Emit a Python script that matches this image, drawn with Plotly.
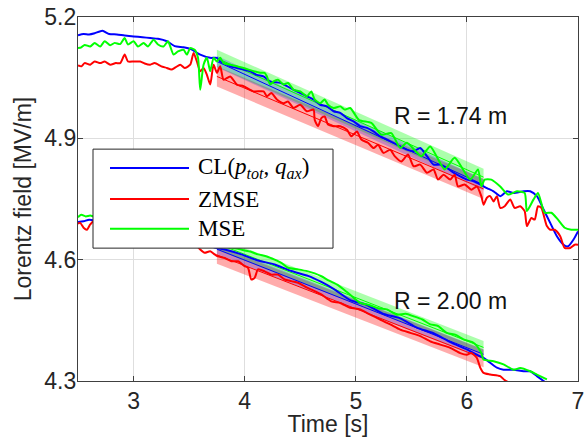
import plotly.graph_objects as go

# ---------------- data ----------------
# Upper family (R = 1.74 m)
up_cl_t = [2.50, 2.55, 2.60, 2.65, 2.72, 2.78, 2.85, 2.92, 3.00, 3.08, 3.15, 3.22, 3.30, 3.37, 3.45, 3.52,
           3.60, 3.69, 3.75, 3.78, 3.81, 3.87, 3.93, 3.99, 4.05, 4.11, 4.17, 4.23, 4.32, 4.38, 4.44, 4.50,
           4.56, 4.62, 4.68, 4.74, 4.80, 4.86, 4.92, 4.98, 5.04, 5.10, 5.16, 5.22, 5.28, 5.34, 5.40, 5.46,
           5.52, 5.58, 5.64, 5.70, 5.76, 5.82, 5.88, 5.94, 6.00, 6.06, 6.12, 6.18, 6.24, 6.30, 6.36, 6.42,
           6.51, 6.57, 6.63, 6.69, 6.75, 6.81, 6.87, 6.91, 6.96, 7.00]
up_cl_f = [5.155, 5.158, 5.157, 5.160, 5.166, 5.158, 5.157, 5.154, 5.152, 5.150, 5.148, 5.146, 5.140, 5.128,
           5.125, 5.120, 5.107, 5.099, 5.099, 5.090, 5.086, 5.078, 5.074, 5.070, 5.066, 5.057, 5.053, 5.041,
           5.037, 5.029, 5.020, 5.012, 5.004, 4.996, 4.983, 4.979, 4.967, 4.963, 4.950, 4.942, 4.930, 4.926,
           4.917, 4.905, 4.897, 4.889, 4.880, 4.872, 4.868, 4.876, 4.856, 4.835, 4.835, 4.827, 4.815, 4.806,
           4.798, 4.794, 4.786, 4.777, 4.769, 4.757, 4.769, 4.765, 4.769, 4.769, 4.757, 4.724, 4.691, 4.658,
           4.637, 4.633, 4.650, 4.670]

up_zmse_t = [2.50, 2.53, 2.56, 2.61, 2.65, 2.70, 2.74, 2.79, 2.84, 2.88, 2.92, 2.95, 3.00, 3.06, 3.10, 3.15,
             3.19, 3.25, 3.30, 3.34, 3.38, 3.42, 3.46, 3.51, 3.54, 3.57, 3.60, 3.63, 3.66, 3.69, 3.72, 3.75,
             3.78, 3.81, 3.87, 3.93, 3.99, 4.08, 4.17, 4.20, 4.24, 4.29, 4.35, 4.39, 4.44, 4.50, 4.56, 4.62,
             4.63, 4.66, 4.69, 4.72, 4.75, 4.80, 4.86, 4.92, 4.96, 5.01, 5.05, 5.11, 5.16, 5.20, 5.25, 5.31,
             5.35, 5.41, 5.47, 5.52, 5.58, 5.64, 5.70, 5.74, 5.79, 5.85, 5.89, 5.92, 5.98, 6.04, 6.09, 6.13,
             6.15, 6.18, 6.21, 6.24, 6.27, 6.30, 6.34, 6.39, 6.43, 6.48, 6.52, 6.54, 6.58, 6.61, 6.64, 6.67,
             6.72, 6.75, 6.79, 6.84, 6.88, 6.93, 6.97, 7.00]
up_zmse_f = [5.080, 5.078, 5.086, 5.082, 5.090, 5.086, 5.090, 5.082, 5.086, 5.086, 5.107, 5.090, 5.090, 5.090,
             5.085, 5.082, 5.086, 5.078, 5.074, 5.070, 5.076, 5.082, 5.074, 5.082, 5.111, 5.090, 5.066, 5.074,
             5.057, 5.033, 5.082, 5.062, 5.078, 5.045, 5.053, 5.033, 5.029, 5.016, 5.016, 5.004, 5.012, 4.996,
             4.987, 4.991, 4.975, 4.983, 4.967, 4.971, 4.946, 4.930, 4.950, 4.954, 4.934, 4.930, 4.930, 4.921,
             4.905, 4.917, 4.897, 4.889, 4.876, 4.884, 4.864, 4.872, 4.856, 4.843, 4.860, 4.831, 4.835, 4.815,
             4.823, 4.798, 4.810, 4.798, 4.810, 4.781, 4.786, 4.773, 4.781, 4.757, 4.736, 4.753, 4.757, 4.744,
             4.757, 4.728, 4.732, 4.749, 4.728, 4.732, 4.720, 4.683, 4.703, 4.699, 4.732, 4.728, 4.683, 4.674,
             4.674, 4.658, 4.629, 4.629, 4.637, 4.637]

up_mse_t = [2.50, 2.53, 2.56, 2.61, 2.65, 2.70, 2.74, 2.79, 2.83, 2.88, 2.92, 2.95, 3.00, 3.04, 3.09, 3.13,
            3.18, 3.22, 3.27, 3.31, 3.36, 3.40, 3.45, 3.48, 3.51, 3.55, 3.58, 3.60, 3.63, 3.66, 3.69, 3.72,
            3.75, 3.78, 3.81, 3.87, 3.93, 3.99, 4.08, 4.14, 4.18, 4.20, 4.23, 4.26, 4.30, 4.35, 4.39, 4.44,
            4.50, 4.56, 4.60, 4.63, 4.68, 4.72, 4.75, 4.80, 4.86, 4.90, 4.95, 5.03, 5.14, 5.23, 5.32, 5.40,
            5.46, 5.59, 5.67, 5.80, 5.89, 6.03, 6.10, 6.13, 6.16, 6.22, 6.30, 6.37, 6.45, 6.52, 6.54, 6.60,
            6.64, 6.70, 6.76, 6.82, 6.88, 6.94, 7.00]
up_mse_f = [5.123, 5.125, 5.131, 5.127, 5.136, 5.127, 5.140, 5.130, 5.136, 5.133, 5.148, 5.132, 5.140, 5.127,
            5.136, 5.127, 5.144, 5.132, 5.127, 5.140, 5.107, 5.115, 5.119, 5.107, 5.123, 5.119, 5.099, 5.020,
            5.082, 5.099, 5.066, 5.099, 5.090, 5.099, 5.086, 5.082, 5.078, 5.074, 5.066, 5.062, 5.062, 5.053,
            5.033, 5.041, 5.045, 5.033, 5.037, 5.020, 5.016, 5.004, 5.016, 4.996, 4.987, 4.996, 4.983, 4.975,
            4.979, 4.971, 4.975, 4.945, 4.938, 4.909, 4.913, 4.876, 4.889, 4.856, 4.880, 4.823, 4.852, 4.798,
            4.823, 4.781, 4.798, 4.798, 4.781, 4.761, 4.769, 4.765, 4.720, 4.749, 4.765, 4.716, 4.716, 4.699,
            4.679, 4.674, 4.674]

# Lower family (R = 2.00 m)
lo_cl_t = [2.50, 2.55, 2.60, 2.64, 2.80, 3.00, 3.20, 3.40, 3.60, 3.73, 3.82, 3.97, 4.12, 4.27, 4.42, 4.57,
           4.69, 4.80, 4.95, 5.10, 5.25, 5.40, 5.55, 5.70, 5.85, 6.00, 6.09, 6.15, 6.21, 6.27, 6.33, 6.42,
           6.51, 6.57, 6.63, 6.70]
lo_cl_f = [4.693, 4.695, 4.699, 4.697, 4.695, 4.692, 4.688, 4.678, 4.650, 4.630, 4.625, 4.613, 4.598, 4.588,
           4.572, 4.560, 4.545, 4.528, 4.500, 4.488, 4.466, 4.455, 4.432, 4.418, 4.396, 4.378, 4.365, 4.357,
           4.345, 4.333, 4.328, 4.328, 4.324, 4.324, 4.312, 4.298]

lo_zmse_t = [2.50, 2.52, 2.55, 2.58, 2.61, 2.64, 2.80, 3.00, 3.20, 3.40, 3.55, 3.60, 3.64, 3.69, 3.73, 3.76,
             3.82, 3.88, 3.94, 4.00, 4.03, 4.06, 4.09, 4.12, 4.18, 4.24, 4.30, 4.36, 4.42, 4.48, 4.54, 4.60,
             4.69, 4.78, 4.86, 4.95, 5.04, 5.13, 5.22, 5.31, 5.40, 5.49, 5.58, 5.67, 5.76, 5.85, 5.94, 6.00,
             6.04, 6.09, 6.12, 6.15, 6.21, 6.30, 6.34, 6.38]
lo_zmse_f = [4.689, 4.691, 4.679, 4.674, 4.687, 4.695, 4.690, 4.688, 4.684, 4.672, 4.640, 4.625, 4.617, 4.621,
             4.613, 4.608, 4.604, 4.596, 4.596, 4.584, 4.580, 4.551, 4.555, 4.576, 4.571, 4.563, 4.563, 4.551,
             4.547, 4.543, 4.534, 4.526, 4.514, 4.497, 4.493, 4.481, 4.477, 4.464, 4.452, 4.440, 4.427, 4.419,
             4.411, 4.398, 4.390, 4.382, 4.369, 4.365, 4.369, 4.357, 4.333, 4.320, 4.316, 4.312, 4.302, 4.296]

lo_mse_t = [2.50, 2.53, 2.57, 2.61, 2.64, 2.80, 3.00, 3.20, 3.40, 3.60, 3.79, 3.88, 3.97, 4.05, 4.12, 4.20,
            4.27, 4.33, 4.39, 4.48, 4.57, 4.63, 4.69, 4.76, 4.84, 4.92, 5.04, 5.12, 5.20, 5.28, 5.37, 5.45,
            5.52, 5.60, 5.67, 5.74, 5.82, 5.90, 5.97, 6.05, 6.09, 6.13, 6.15, 6.24, 6.33, 6.42, 6.48, 6.57,
            6.63, 6.72]
lo_mse_f = [4.705, 4.711, 4.707, 4.709, 4.707, 4.706, 4.704, 4.700, 4.692, 4.660, 4.633, 4.630, 4.625, 4.620,
            4.613, 4.608, 4.600, 4.592, 4.580, 4.576, 4.571, 4.566, 4.559, 4.548, 4.537, 4.520, 4.493, 4.488,
            4.480, 4.477, 4.464, 4.466, 4.460, 4.452, 4.440, 4.436, 4.419, 4.414, 4.403, 4.396, 4.387, 4.369,
            4.353, 4.349, 4.341, 4.328, 4.332, 4.324, 4.316, 4.304]

# Linear fits over the flat-top window: endpoints and half-widths of the confidence bands
fit_t = [3.75, 6.15]
up_fit_cl = [5.090, 4.785]
up_fit_zmse = [5.053, 4.775]
up_fit_mse = [5.098, 4.804]
lo_fit_cl = [4.626, 4.366]
lo_fit_zmse = [4.612, 4.356]
lo_fit_mse = [4.640, 4.383]
band_hw = {"cl": 0.014, "zmse": 0.025, "mse": 0.021}
band_hw_lo = {"cl": 0.012, "zmse": 0.022, "mse": 0.016}

series_names = ["CL(<i>p</i><sub><i>tot</i></sub>, <i>q</i><sub><i>ax</i></sub>)", "ZMSE", "MSE"]
x_ticks = [3, 4, 5, 6, 7]
y_ticks = [4.3, 4.6, 4.9, 5.2]
radius_labels = ["R = 1.74 m", "R = 2.00 m"]
radius_label_pos = [(5.33, 4.955), (5.33, 4.497)]

# ---------------- styling ----------------
BLUE, RED, GREEN = "#0000ff", "#ff0000", "#00ff00"
BAND_FILL = {
    "cl": "rgba(0,0,255,0.22)",
    "zmse": "rgba(255,0,0,0.33)",
    "mse": "rgba(0,255,0,0.33)",
}
SANS = "Liberation Sans, Arial, sans-serif"
SERIF = "Liberation Serif, Times New Roman, serif"
AX = "#404040"

fig = go.Figure()


def add_band(center, hw, fill):
    xs = [fit_t[0], fit_t[1], fit_t[1], fit_t[0], fit_t[0]]
    ys = [center[0] + hw, center[1] + hw, center[1] - hw, center[0] - hw, center[0] + hw]
    fig.add_trace(go.Scatter(x=xs, y=ys, mode="lines", fill="toself", fillcolor=fill,
                             line=dict(width=0), hoverinfo="skip", showlegend=False))


def add_fit(center, color):
    fig.add_trace(go.Scatter(x=fit_t, y=center, mode="lines", line=dict(color=color, width=1),
                             hoverinfo="skip", showlegend=False))


# confidence bands
for c, hw, key in [(up_fit_zmse, band_hw["zmse"], "zmse"), (up_fit_mse, band_hw["mse"], "mse"),
                   (up_fit_cl, band_hw["cl"], "cl"),
                   (lo_fit_zmse, band_hw_lo["zmse"], "zmse"), (lo_fit_mse, band_hw_lo["mse"], "mse"),
                   (lo_fit_cl, band_hw_lo["cl"], "cl")]:
    add_band(c, hw, BAND_FILL[key])

# fit lines
for c, col in [(up_fit_zmse, RED), (up_fit_mse, GREEN), (up_fit_cl, BLUE),
               (lo_fit_zmse, RED), (lo_fit_mse, GREEN), (lo_fit_cl, BLUE)]:
    add_fit(c, col)

# measured traces
for t, f, col in [(up_cl_t, up_cl_f, BLUE), (lo_cl_t, lo_cl_f, BLUE),
                  (up_zmse_t, up_zmse_f, RED), (lo_zmse_t, lo_zmse_f, RED),
                  (up_mse_t, up_mse_f, GREEN), (lo_mse_t, lo_mse_f, GREEN)]:
    fig.add_trace(go.Scatter(x=t, y=f, mode="lines", line=dict(color=col, width=2, shape="spline",
                                                              smoothing=0.6),
                             showlegend=False))

# legend box drawn in paper space
L_X0, L_X1, L_Y0, L_Y1 = 0.030, 0.510, 0.365, 0.637
row_y = [0.585, 0.500, 0.418]
shapes = [dict(type="rect", xref="paper", yref="paper", x0=L_X0, x1=L_X1, y0=L_Y0, y1=L_Y1,
               fillcolor="white", line=dict(color="#262626", width=1), layer="above")]
annotations = []
for name, col, yy in zip(series_names, [BLUE, RED, GREEN], row_y):
    shapes.append(dict(type="line", xref="paper", yref="paper", x0=0.064, x1=0.222, y0=yy, y1=yy,
                       line=dict(color=col, width=2), layer="above"))
    annotations.append(dict(xref="paper", yref="paper", x=0.236, y=yy, text=name, showarrow=False,
                            xanchor="left", yanchor="middle",
                            font=dict(family=SERIF, size=23, color="black")))

for txt, (xx, yy) in zip(radius_labels, radius_label_pos):
    annotations.append(dict(x=xx, y=yy, xref="x", yref="y", text=txt, showarrow=False,
                            xanchor="left", yanchor="middle",
                            font=dict(family=SANS, size=23, color="#111111")))

axis_common = dict(
    showline=True, linecolor=AX, linewidth=1.3, mirror="ticks",
    ticks="inside", ticklen=5, tickcolor=AX, tickwidth=1,
    showgrid=True, gridcolor="#dedede", gridwidth=1, zeroline=False,
    tickfont=dict(family=SANS, size=23, color="#262626"),
    automargin=False, ticklabeloverflow="allow",
)

fig.update_layout(
    width=584, height=437,
    margin=dict(l=78, r=6, t=17, b=56),
    paper_bgcolor="white", plot_bgcolor="white",
    showlegend=False,
    shapes=shapes, annotations=annotations,
    xaxis=dict(range=[2.5, 7], tickvals=x_ticks, ticktext=[str(v) for v in x_ticks],
               ticklabelstandoff=-1,
               title=dict(text="Time [s]", font=dict(family=SANS, size=23, color="#262626"), standoff=4),
               **axis_common),
    yaxis=dict(range=[4.3, 5.2], tickvals=y_ticks, ticktext=[f"{v:.1f}" for v in y_ticks],
               ticklabelstandoff=-4,
               title=dict(text="Lorentz field [MV/m]", font=dict(family=SANS, size=23, color="#262626"),
                          standoff=6),
               **axis_common),
)

fig.write_html("out.html")
